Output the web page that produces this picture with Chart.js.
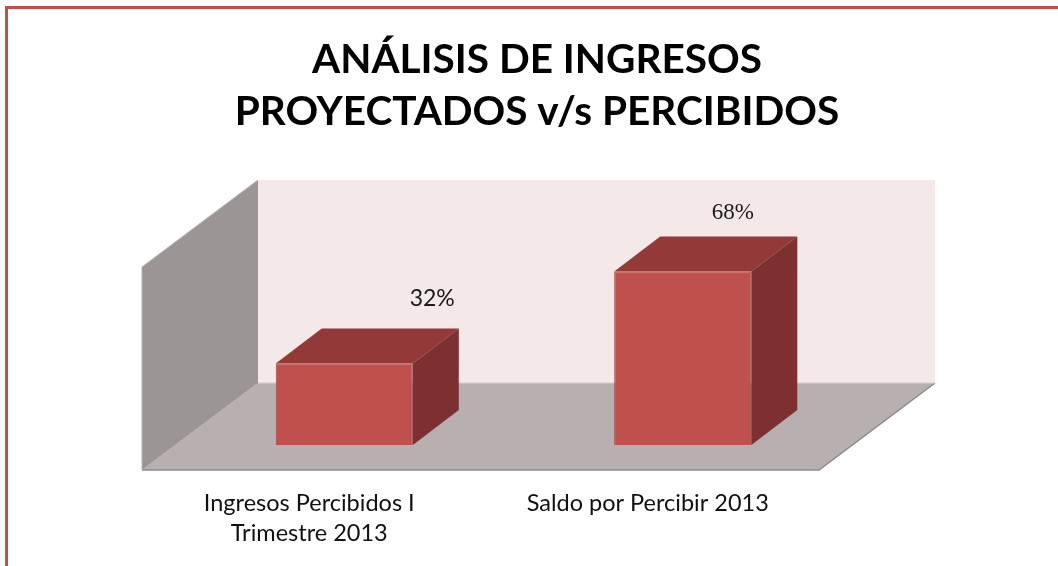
<!DOCTYPE html>
<html>
<head>
<meta charset="utf-8">
<script src="https://cdn.jsdelivr.net/npm/chart.js@4"></script>
<style>
  html, body { margin: 0; padding: 0; background: #ffffff; }
  #grafico { display: block; }
</style>
</head>
<body>
<canvas id="grafico" width="1058" height="566"></canvas>
<script>
/* Gráfico 3D de ingresos proyectados vs percibidos */

const categorias = [['Ingresos Percibidos I', 'Trimestre 2013'], 'Saldo por Percibir 2013'];
const porcentajes = [32, 68];
const maxEje = 100;

// Estilos de la escena (no son datos)
const colores = {
    marco: '#c0504d',
    fondo: '#f4e8e8',
    piso: '#b8b0b0',
    bordePiso: '#8e8a8a',
    pared: '#9b9595',
    frente: '#c0504d',
    borde: '#a54441',
    techo: '#933a39',
    lado: '#7c302f'
};
const escena = { fx: -33, fy: 25, dx: 116, dy: -87, sobreTecho: 10 };
const prof = { dx: 46, dy: -35 };
// desplazamiento de cada etiqueta respecto a la cara frontal de la barra
const posEtiqueta = [[88, -65], [50, -59]];
const fuenteEtiqueta = ['23px Lato', '23px "Liberation Serif"'];

function poligono(ctx, pts, relleno) {
    ctx.beginPath();
    ctx.moveTo(pts[0][0], pts[0][1]);
    pts.slice(1).forEach(p => ctx.lineTo(p[0], p[1]));
    ctx.closePath();
    ctx.fillStyle = relleno;
    ctx.fill();
}

const escena3d = {
    id: 'escena3d',
    beforeDraw(chart) {
        const { ctx, chartArea: a } = chart;
        ctx.save();

        // Marco rojo
        ctx.fillStyle = colores.marco;
        ctx.fillRect(5, 6, chart.width - 5, 3);
        ctx.fillRect(5, 6, 3, chart.height - 6);

        const fL = a.left + escena.fx, fR = a.right + escena.fx, fY = a.bottom + escena.fy;
        const bL = fL + escena.dx, bR = fR + escena.dx, bY = fY + escena.dy;
        const topY = a.top - escena.sobreTecho;

        // Pared del fondo
        poligono(ctx, [[bL, topY], [bR, topY], [bR, bY], [bL, bY]], colores.fondo);
        // Piso
        poligono(ctx, [[bL, bY], [bR, bY], [fR, fY], [fL, fY]], colores.piso);
        ctx.strokeStyle = colores.bordePiso;
        ctx.lineWidth = 1.5;
        ctx.beginPath();
        ctx.moveTo(fL, fY); ctx.lineTo(fR, fY); ctx.lineTo(bR, bY);
        ctx.stroke();
        ctx.strokeStyle = '#d9cccc';
        ctx.lineWidth = 1;
        ctx.beginPath();
        ctx.moveTo(bL, bY); ctx.lineTo(bR, bY);
        ctx.stroke();
        // Pared izquierda
        poligono(ctx, [[fL, topY - escena.dy], [bL, topY], [bL, bY], [fL, fY]], colores.pared);
        ctx.strokeStyle = '#b3aeae';
        ctx.beginPath();
        ctx.moveTo(fL, fY); ctx.lineTo(fL, topY - escena.dy); ctx.lineTo(bL, topY);
        ctx.stroke();

        ctx.restore();
    },
    afterDatasetsDraw(chart) {
        const { ctx } = chart;
        const meta = chart.getDatasetMeta(0);
        ctx.save();
        meta.data.forEach((bar, i) => {
            const L = bar.x - bar.width / 2, R = bar.x + bar.width / 2;
            const T = bar.y, B = bar.base;
            // cara superior
            poligono(ctx, [[L, T], [R, T], [R + prof.dx, T + prof.dy], [L + prof.dx, T + prof.dy]], colores.techo);
            // cara lateral
            poligono(ctx, [[R, T], [R + prof.dx, T + prof.dy], [R + prof.dx, B + prof.dy], [R, B]], colores.lado);

            // etiqueta de porcentaje
            ctx.font = fuenteEtiqueta[i];
            ctx.fillStyle = '#1a1a1a';
            ctx.textAlign = 'center';
            ctx.textBaseline = 'middle';
            ctx.fillText(porcentajes[i] + '%', bar.x + posEtiqueta[i][0], T + posEtiqueta[i][1]);
        });
        ctx.restore();
    }
};

new Chart(document.getElementById('grafico'), {
    type: 'bar',
    data: {
        labels: categorias,
        datasets: [{
            label: 'Porcentaje',
            data: porcentajes,
            backgroundColor: colores.frente,
            borderColor: colores.borde,
            borderWidth: 1,
            barPercentage: 0.5,
            categoryPercentage: 0.81
        }]
    },
    options: {
        responsive: false,
        animation: false,
        devicePixelRatio: 1,
        layout: { padding: { left: 16, right: 0, top: 0, bottom: 0 } },
        plugins: {
            legend: { display: false },
            tooltip: { enabled: false },
            title: {
                display: true,
                text: ['ANÁLISIS DE INGRESOS', 'PROYECTADOS v/s PERCIBIDOS'],
                color: '#000000',
                font: { family: 'Lato', size: 40.5, weight: 'bold', lineHeight: 1.284 },
                padding: { top: 34, bottom: 52 }
            }
        },
        scales: {
            x: {
                grid: { display: false, drawTicks: false },
                border: { display: false },
                ticks: {
                    color: '#111111',
                    font: { family: 'Lato', size: 23.5, lineHeight: 1.3 },
                    padding: 43,
                    labelOffset: -35,
                    maxRotation: 0
                },
                afterFit: s => { s.height = 121; }
            },
            y: {
                min: 0,
                max: maxEje,
                ticks: { display: false },
                grid: { display: false },
                border: { display: false },
                afterFit: s => { s.width = 159; }
            },
            y2: {
                position: 'right',
                ticks: { display: false },
                grid: { display: false },
                border: { display: false },
                afterFit: s => { s.width = 206; }
            }
        }
    },
    plugins: [escena3d]
});
</script>
</body>
</html>
